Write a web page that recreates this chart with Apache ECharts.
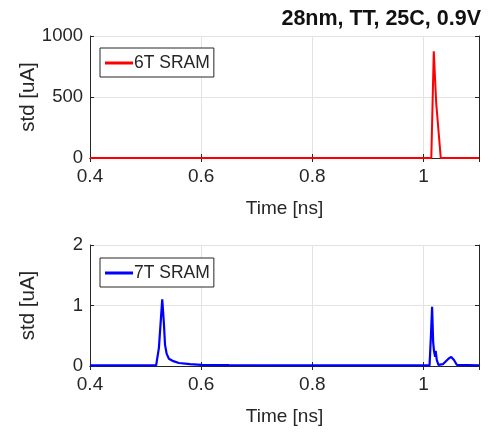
<!DOCTYPE html>
<html>
<head>
<meta charset="utf-8">
<script src="https://cdn.jsdelivr.net/npm/echarts@6/dist/echarts.min.js"></script>
<style>html,body{margin:0;padding:0;background:#fff;}#c{width:488px;height:433px;}</style>
</head>
<body>
<div id="c"></div>
<script>
const titleText = "28nm, TT, 25C, 0.9V";
const xName = "Time [ns]";
const yName = "std [uA]";
const name6 = "6T SRAM";
const name7 = "7T SRAM";
const xTicks = [0.4, 0.6, 0.8, 1.0];
const y6Ticks = [0, 500, 1000];
const y7Ticks = [0, 1, 2];
const t6 = [0.4, 1.0142, 1.0186, 1.0230, 1.0312, 1.1];
const v6 = [0, 0, 875, 450, 0, 0];
const t7 = [0.4, 0.519, 0.524, 0.530, 0.533, 0.535, 0.538, 0.542, 0.550, 0.560, 0.580, 0.600, 0.650, 0.750, 1.000, 1.011, 1.0135, 1.0156, 1.0175, 1.019, 1.021, 1.022, 1.024, 1.027, 1.035, 1.045, 1.050, 1.055, 1.060, 1.1];
const v7 = [0.01, 0.01, 0.30, 1.10, 0.70, 0.35, 0.20, 0.12, 0.08, 0.05, 0.03, 0.02, 0.015, 0.01, 0.01, 0.01, 0.50, 0.98, 0.40, 0.25, 0.15, 0.25, 0.10, 0.02, 0.03, 0.12, 0.15, 0.10, 0.02, 0.01];

const font = "'Liberation Sans', Arial, sans-serif";
const axisCol = "#262626";
const gridCol = "#e3e3e3";
const fmtX = v => String(parseFloat(v.toFixed(2)));
const fmtY = v => String(parseFloat(v.toFixed(2)));

function xAxisMain(gi) {
  return {
    type: 'value', gridIndex: gi, min: xTicks[0], max: 1.1, interval: 0.2,
    name: xName, nameLocation: 'middle', nameGap: 41, nameMoveOverlap: false,
    nameTextStyle: {fontFamily: font, fontSize: 19, color: axisCol},
    axisLine: {show: true, onZero: false, lineStyle: {color: axisCol, width: 1}},
    axisTick: {show: true, inside: true, length: 4, lineStyle: {color: axisCol}},
    axisLabel: {fontFamily: font, fontSize: 19, color: axisCol, margin: 9, showMaxLabel: false, formatter: fmtX},
    splitLine: {show: true, lineStyle: {color: gridCol, width: 1}}
  };
}
function xAxisTop(gi) {
  return {
    type: 'value', gridIndex: gi, position: 'top', min: xTicks[0], max: 1.1, interval: 0.2,
    axisLine: {show: true, lineStyle: {color: axisCol, width: 1}},
    axisTick: {show: true, inside: true, length: 4, lineStyle: {color: axisCol}},
    axisLabel: {show: false}, splitLine: {show: false}
  };
}
function yAxisMain(gi, ticks) {
  return {
    type: 'value', gridIndex: gi, min: ticks[0], max: ticks[ticks.length - 1], interval: ticks[1] - ticks[0],
    name: yName, nameLocation: 'middle', nameGap: 51, nameMoveOverlap: false,
    nameTextStyle: {fontFamily: font, fontSize: 20.5, color: axisCol},
    axisLine: {show: true, lineStyle: {color: axisCol, width: 1}},
    axisTick: {show: true, inside: true, length: 4, lineStyle: {color: axisCol}},
    axisLabel: {fontFamily: font, fontSize: 18.5, color: axisCol, margin: 7, formatter: fmtY},
    splitLine: {show: true, lineStyle: {color: gridCol, width: 1}}
  };
}
function yAxisRight(gi, ticks) {
  return {
    type: 'value', gridIndex: gi, position: 'right', min: ticks[0], max: ticks[ticks.length - 1], interval: ticks[1] - ticks[0],
    axisLine: {show: true, lineStyle: {color: axisCol, width: 1}},
    axisTick: {show: true, inside: true, length: 4, lineStyle: {color: axisCol}},
    axisLabel: {show: false}, splitLine: {show: false}
  };
}
function legendAt(name, top) {
  return {data: [name], left: 100, top: top, orient: 'vertical', borderColor: axisCol, borderWidth: 1, backgroundColor: '#fff',
    padding: [6, 4, 5, 5], icon: 'rect', itemWidth: 28, itemHeight: 3, itemGap: 2,
    textStyle: {fontFamily: font, fontSize: 17.5, color: axisCol, padding: [0, 0, 0, -4]}};
}

const chart = echarts.init(document.getElementById('c'), null, {renderer: 'canvas'});
chart.setOption({
  animation: false,
  backgroundColor: '#fff',
  title: {text: titleText, right: 7, top: 8, padding: 0, textStyle: {fontFamily: font, fontSize: 21.5, fontWeight: 'bold', color: '#111'}},
  grid: [
    {left: 90, right: 9, top: 36, height: 122},
    {left: 90, right: 9, top: 245, height: 121}
  ],
  xAxis: [xAxisMain(0), xAxisTop(0), xAxisMain(1), xAxisTop(1)],
  yAxis: [yAxisMain(0, y6Ticks), yAxisRight(0, y6Ticks), yAxisMain(1, y7Ticks), yAxisRight(1, y7Ticks)],
  legend: [legendAt(name6, 48), legendAt(name7, 258)],
  series: [
    {name: name6, type: 'line', xAxisIndex: 0, yAxisIndex: 0, data: t6.map((t, i) => [t, v6[i]]),
     showSymbol: false, symbol: 'none', color: '#ff0000', lineStyle: {width: 2, color: '#ff0000'}},
    {name: name7, type: 'line', xAxisIndex: 2, yAxisIndex: 2, data: t7.map((t, i) => [t, v7[i]]),
     showSymbol: false, symbol: 'none', color: '#0000ff', lineStyle: {width: 2.2, color: '#0000ff'}}
  ]
});
</script>
</body>
</html>
